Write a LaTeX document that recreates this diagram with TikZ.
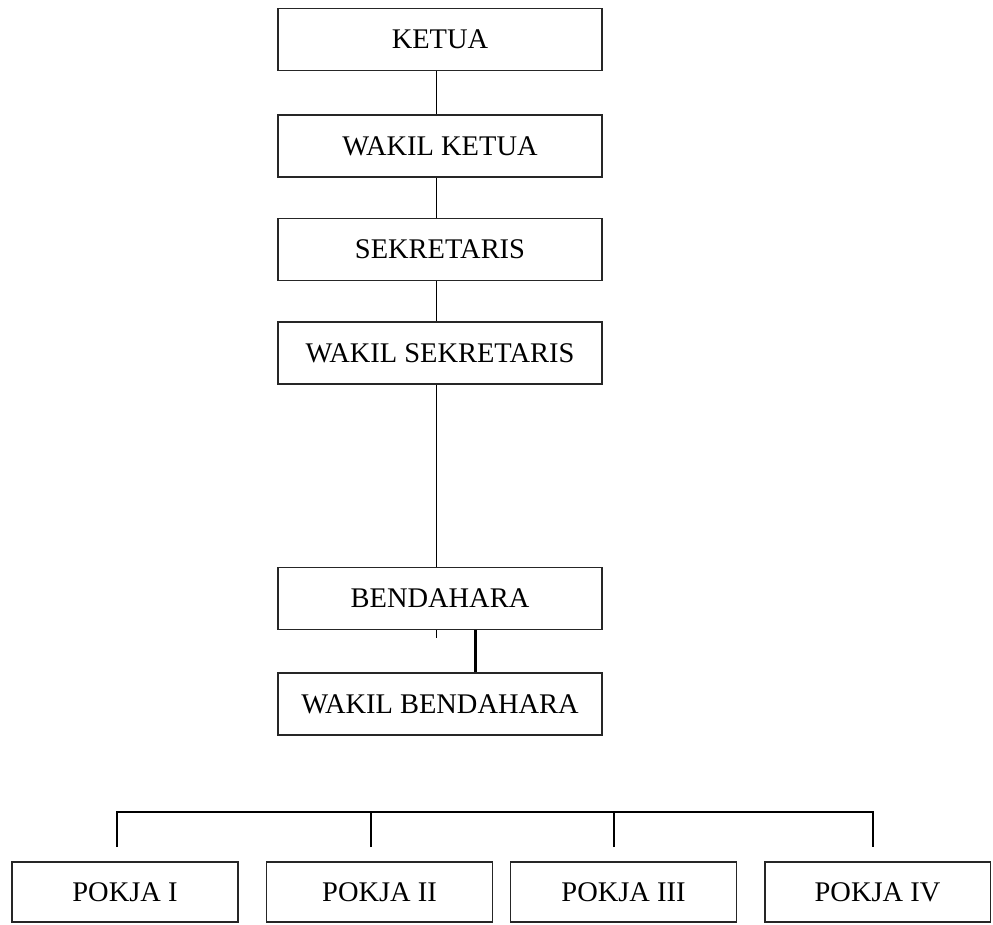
\documentclass[tikz,border=0pt]{standalone}
\usepackage{fontspec}
\setmainfont{Liberation Serif}
\usepackage{tikz}
\usetikzlibrary{positioning}
\tikzset{
  jabnode/.style={draw=black!85,line width=1.1pt,minimum width=6.48cm,minimum height=1.24cm,inner sep=0pt,font=\fontsize{16.2}{18}\selectfont},
  pokjanode/.style={jabnode,minimum width=4.52cm,minimum height=1.2cm},
  lineedge/.style={black,line width=0.8pt},
  thickedge/.style={black,line width=1.8pt},
}
\begin{document}
\begin{tikzpicture}[x=0.02cm,y=-0.02cm]
  \useasboundingbox (0,0) rectangle (993,924);
  \node[jabnode] (nKetua) at (440,39.5) {KETUA};
  \node[jabnode] (nWKetua) at (440,146) {WAKIL KETUA};
  \node[jabnode] (nSekr) at (440,249.5) {SEKRETARIS};
  \node[jabnode] (nWSekr) at (440,353) {WAKIL SEKRETARIS};
  \node[jabnode] (nBend) at (440,598.5) {BENDAHARA};
  \node[jabnode] (nWBend) at (440,704) {WAKIL BENDAHARA};
  \node[pokjanode] (nPokja1) at (125,892) {POKJA I};
  \node[pokjanode] (nPokja2) at (379.5,892) {POKJA II};
  \node[pokjanode] (nPokja3) at (623.5,892) {POKJA III};
  \node[pokjanode] (nPokja4) at (877.5,892) {POKJA IV};
  % spine of the upper boxes
  \coordinate (cSpine) at (436.5,0);
  \coordinate (cThick) at (475.5,0);
  \draw[lineedge] (nKetua.south -| cSpine) -- (nWKetua.north -| cSpine);
  \draw[lineedge] (nWKetua.south -| cSpine) -- (nSekr.north -| cSpine);
  \draw[lineedge] (nSekr.south -| cSpine) -- (nWSekr.north -| cSpine);
  \draw[lineedge] (nWSekr.south -| cSpine) -- (nBend.north -| cSpine);
  \coordinate (cTick) at (436.5,638);
  \draw[lineedge] (nBend.south -| cSpine) -- (cTick);
  \draw[thickedge] (nBend.south -| cThick) -- (nWBend.north -| cThick);
  % bus to the pokja boxes
  \coordinate (cBus) at (0,812);
  \coordinate (cDrop1) at (117,847);
  \coordinate (cDrop2) at (371,847);
  \coordinate (cDrop3) at (614,847);
  \coordinate (cDrop4) at (873,847);
  \draw[lineedge] (cDrop1) -- (cDrop1 |- cBus) -- (cDrop4 |- cBus) -- (cDrop4);
  \foreach \i in {2,3}
    \draw[lineedge] (cDrop\i) -- (cDrop\i |- cBus);
\end{tikzpicture}
\end{document}
